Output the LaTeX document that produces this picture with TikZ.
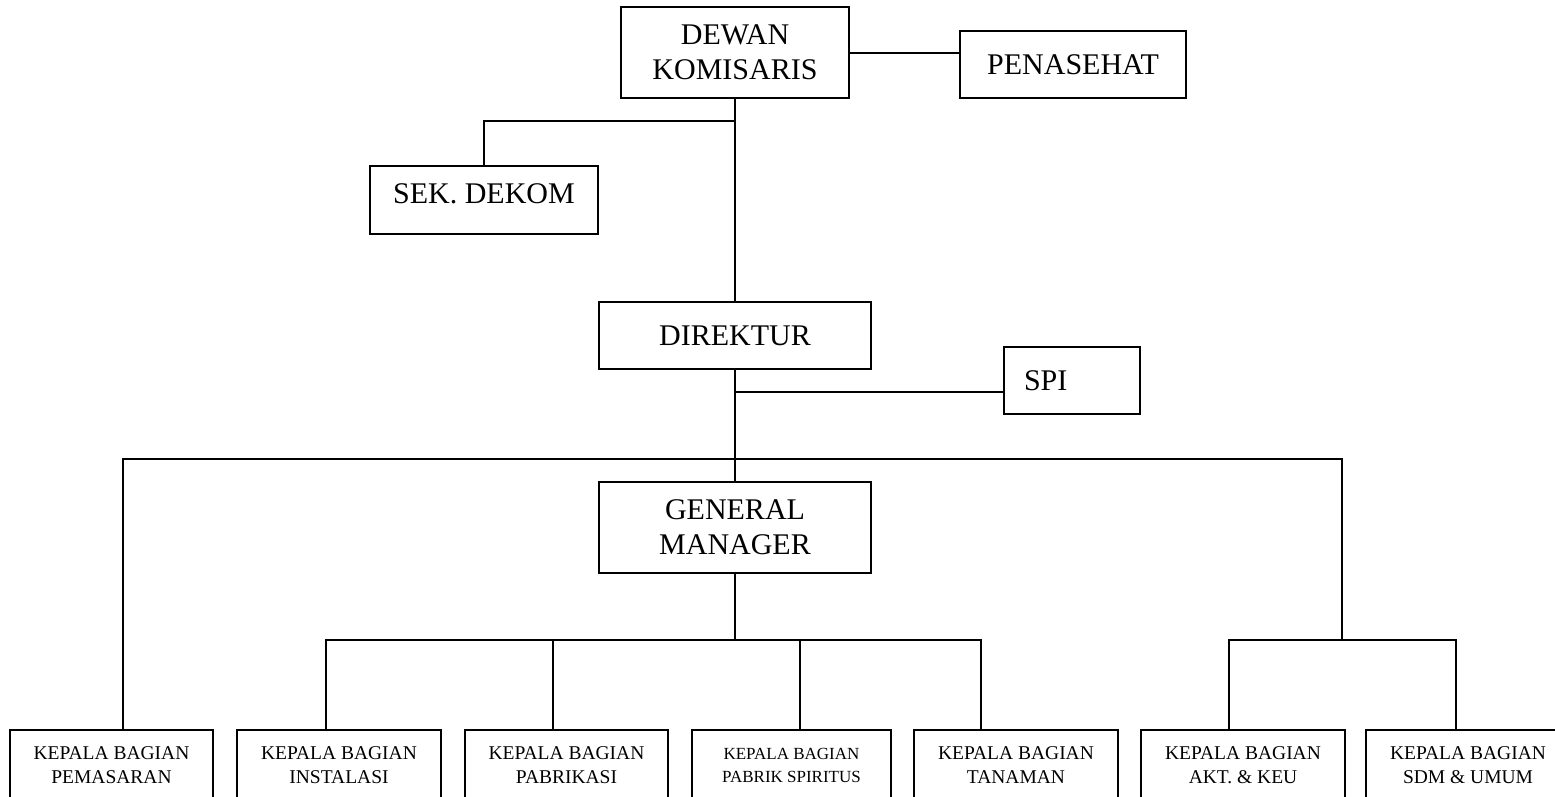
\documentclass[tikz,border=0pt]{standalone}
\usepackage{fontspec}
\setmainfont{Liberation Serif}
\begin{document}
\begin{tikzpicture}[x=1pt,y=-1pt,
  box/.style={draw=black, line width=1.5pt, rectangle, inner sep=0pt, align=center},
  big/.style={box, font=\fontsize{30}{35}\selectfont},
  low/.style={box, minimum height=70pt, font=\fontsize{19.5}{24}\selectfont},
  lowsmall/.style={box, minimum height=70pt, font=\fontsize{17}{23}\selectfont},
  wire/.style={draw=black, line width=1.6pt}]
\useasboundingbox (0,0) rectangle (1555,797);
\clip (0,0) rectangle (1555,797);
% top level
\node[big, minimum width=228pt, minimum height=91pt] (dk) at (735,52.5) {DEWAN\\KOMISARIS};
\node[big, minimum width=226pt, minimum height=67pt] (pn) at (1073,64.5) {PENASEHAT};
\node[big, minimum width=228pt, minimum height=68pt, text depth=12pt] (sd) at (484,200) {SEK. DEKOM};
\node[big, minimum width=272pt, minimum height=67pt] (dr) at (735,335.5) {DIREKTUR};
\node[big, minimum width=136pt, minimum height=67pt, text width=96pt, align=left, inner xsep=20pt] (spi) at (1072,380.5) {SPI};
\node[big, minimum width=272pt, minimum height=91pt] (gm) at (735,527.5) {GENERAL\\MANAGER};
% bottom level
\node[low, minimum width=203pt] (b1) at (111.5,765) {KEPALA BAGIAN\\PEMASARAN};
\node[low, minimum width=204pt] (b2) at (339,765) {KEPALA BAGIAN\\INSTALASI};
\node[low, minimum width=203pt] (b3) at (566.5,765) {KEPALA BAGIAN\\PABRIKASI};
\node[lowsmall, minimum width=199pt] (b4) at (791.5,765) {KEPALA BAGIAN\\PABRIK SPIRITUS};
\node[low, minimum width=204pt] (b5) at (1016,765) {KEPALA BAGIAN\\TANAMAN};
\node[low, minimum width=204pt] (b6) at (1243,765) {KEPALA BAGIAN\\AKT. \& KEU};
\node[low, minimum width=204pt] (b7) at (1468,765) {KEPALA BAGIAN\\SDM \& UMUM};
% junction coordinates
\coordinate (j0) at (849,53);
\coordinate (j1) at (735,121);
\coordinate (j2) at (735,392);
\coordinate (bL) at (123,459);
\coordinate (bR) at (1342,459);
\coordinate (g1) at (326,640);
\coordinate (g2) at (553,640);
\coordinate (g3) at (800,640);
\coordinate (g4) at (981,640);
\coordinate (gM) at (735,640);
\coordinate (r1) at (1229,640);
\coordinate (r2) at (1456,640);
\coordinate (rM) at (1342,640);
% connectors
\draw[wire] (j0) -- (j0 -| pn.west);
\draw[wire] (dk.south) -- (dk.south |- dr.north);
\draw[wire] (j1) -| (sd.north);
\draw[wire] (dr.south) -- (gm.north);
\draw[wire] (j2) -- (j2 -| spi.west);
\draw[wire] (b1.north -| bL) -- (bL) -- (bR) -- (rM);
\draw[wire] (r1 |- b6.north) -- (r1) -- (r2) -- (r2 |- b7.north);
\draw[wire] (gm.south) -- (gM);
\draw[wire] (g1 |- b2.north) -- (g1) -- (g4) -- (g4 |- b5.north);
\draw[wire] (g2) -- (g2 |- b3.north);
\draw[wire] (g3) -- (g3 |- b4.north);
\end{tikzpicture}
\end{document}
